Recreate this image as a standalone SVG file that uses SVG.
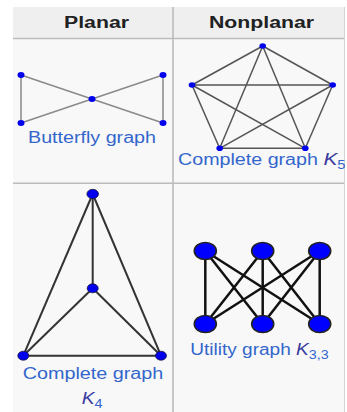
<svg xmlns="http://www.w3.org/2000/svg" width="347" height="412" viewBox="0 0 347 412">
  <defs>
    <style>
      .hdr { fill:#efefef; }
      .body { fill:#f8f8f8; }
      .grid { stroke:#bcbcbc; stroke-width:1.6; fill:none; }
      .th { font-family:"Liberation Sans", Arial, sans-serif; font-weight:bold; font-size:16px; fill:#202122; }
      .cap { font-family:"Liberation Sans", Arial, sans-serif; font-size:16px; fill:#3366cc; }
      .it { font-style:italic; fill:#3a3aa0; }
      .sub { font-size:12px; }
      .e-bf { stroke:#8a8a8a; stroke-width:1.5; }
      .e-k5 { stroke:#555; stroke-width:1.5; }
      .e-k4 { stroke:#333; stroke-width:2; }
      .e-k33 { stroke:#111; stroke-width:2.5; }
      .v-s { fill:#0000ee; }
      .v-m { fill:#0000ee; stroke:#1a1a40; stroke-width:0.8; }
      .v-l { fill:#0000ff; stroke:#222; stroke-width:1.6; }
    </style>
    <clipPath id="tbl"><rect x="13" y="7" width="332" height="405"/></clipPath>
  </defs>

  <!-- table -->
  <g id="table">
    <rect class="hdr" x="13" y="7" width="332" height="31.5"/>
    <rect class="body" x="13" y="38.5" width="332" height="373.5"/>
    <line class="grid" x1="13" y1="38.5" x2="345" y2="38.5"/>
    <line class="grid" x1="13" y1="183.3" x2="345" y2="183.3"/>
    <line class="grid" x1="173" y1="7" x2="173" y2="412"/>
    <line x1="344.5" y1="7" x2="344.5" y2="412" stroke="#d4d4d4" stroke-width="1"/>
    <text class="th" x="64" y="28.3" textLength="65" lengthAdjust="spacingAndGlyphs">Planar</text>
    <text class="th" x="209" y="28.3" textLength="105" lengthAdjust="spacingAndGlyphs">Nonplanar</text>
  </g>

  <!-- connectors -->
  <g id="connectors">
    <!-- butterfly -->
    <line class="e-bf" x1="21" y1="75" x2="21" y2="123"/>
    <line class="e-bf" x1="21" y1="75" x2="92" y2="99"/>
    <line class="e-bf" x1="21" y1="123" x2="92" y2="99"/>
    <line class="e-bf" x1="163" y1="75" x2="92" y2="99"/>
    <line class="e-bf" x1="163" y1="123" x2="92" y2="99"/>
    <line class="e-bf" x1="163" y1="75" x2="163" y2="123"/>
    <!-- K5 -->
    <line class="e-k5" x1="262.7" y1="46" x2="192" y2="85"/>
    <line class="e-k5" x1="262.7" y1="46" x2="332.7" y2="85"/>
    <line class="e-k5" x1="262.7" y1="46" x2="219.7" y2="148.3"/>
    <line class="e-k5" x1="262.7" y1="46" x2="305.3" y2="148.3"/>
    <line class="e-k5" x1="192" y1="85" x2="332.7" y2="85"/>
    <line class="e-k5" x1="192" y1="85" x2="219.7" y2="148.3"/>
    <line class="e-k5" x1="192" y1="85" x2="305.3" y2="148.3"/>
    <line class="e-k5" x1="332.7" y1="85" x2="219.7" y2="148.3"/>
    <line class="e-k5" x1="332.7" y1="85" x2="305.3" y2="148.3"/>
    <line class="e-k5" x1="219.7" y1="148.3" x2="305.3" y2="148.3"/>
    <!-- K4 -->
    <line class="e-k4" x1="92.7" y1="194" x2="92.7" y2="288.3"/>
    <line class="e-k4" x1="92.7" y1="194" x2="23.3" y2="355.7"/>
    <line class="e-k4" x1="92.7" y1="194" x2="161" y2="355.7"/>
    <line class="e-k4" x1="92.7" y1="288.3" x2="23.3" y2="355.7"/>
    <line class="e-k4" x1="92.7" y1="288.3" x2="161" y2="355.7"/>
    <line class="e-k4" x1="23.3" y1="355.7" x2="161" y2="355.7"/>
    <!-- K3,3 -->
    <line class="e-k33" x1="205.3" y1="251" x2="205.3" y2="324"/>
    <line class="e-k33" x1="205.3" y1="251" x2="262.7" y2="324"/>
    <line class="e-k33" x1="205.3" y1="251" x2="319.7" y2="324"/>
    <line class="e-k33" x1="262.7" y1="251" x2="205.3" y2="324"/>
    <line class="e-k33" x1="262.7" y1="251" x2="262.7" y2="324"/>
    <line class="e-k33" x1="262.7" y1="251" x2="319.7" y2="324"/>
    <line class="e-k33" x1="319.7" y1="251" x2="205.3" y2="324"/>
    <line class="e-k33" x1="319.7" y1="251" x2="262.7" y2="324"/>
    <line class="e-k33" x1="319.7" y1="251" x2="319.7" y2="324"/>
  </g>

  <!-- butterfly graph -->
  <g id="butterfly">
    <g id="bf-a"><ellipse class="v-s" cx="21" cy="75" rx="3.5" ry="3"/></g>
    <g id="bf-b"><ellipse class="v-s" cx="21" cy="123" rx="3.5" ry="3"/></g>
    <g id="bf-c"><ellipse class="v-s" cx="92" cy="99" rx="3.5" ry="3"/></g>
    <g id="bf-d"><ellipse class="v-s" cx="163" cy="75" rx="3.5" ry="3"/></g>
    <g id="bf-e"><ellipse class="v-s" cx="163" cy="123" rx="3.5" ry="3"/></g>
    <text class="cap" x="28" y="143" textLength="128" lengthAdjust="spacingAndGlyphs">Butterfly graph</text>
  </g>

  <!-- K5 -->
  <g id="k5">
    <g id="k5-a"><ellipse class="v-s" cx="262.7" cy="46" rx="3.3" ry="2.8"/></g>
    <g id="k5-b"><ellipse class="v-s" cx="192" cy="85" rx="3.3" ry="2.8"/></g>
    <g id="k5-c"><ellipse class="v-s" cx="332.7" cy="85" rx="3.3" ry="2.8"/></g>
    <g id="k5-d"><ellipse class="v-s" cx="219.7" cy="148.3" rx="3.3" ry="2.8"/></g>
    <g id="k5-e"><ellipse class="v-s" cx="305.3" cy="148.3" rx="3.3" ry="2.8"/></g>
    <g clip-path="url(#tbl)">
      <text class="cap" transform="translate(178,164.5) scale(1.23,1)">Complete graph <tspan class="it" font-size="17">K</tspan><tspan class="sub" dy="4">5</tspan></text>
    </g>
  </g>

  <!-- K4 -->
  <g id="k4">
    <g id="k4-a"><ellipse class="v-m" cx="92.7" cy="194" rx="5.8" ry="4.7"/></g>
    <g id="k4-b"><ellipse class="v-m" cx="92.7" cy="288.3" rx="5.5" ry="4.5"/></g>
    <g id="k4-c"><ellipse class="v-m" cx="23.3" cy="355.7" rx="5.5" ry="4.5"/></g>
    <g id="k4-d"><ellipse class="v-m" cx="161" cy="355.7" rx="5.5" ry="4.5"/></g>
    <text class="cap" x="22.7" y="379" textLength="140.6" lengthAdjust="spacingAndGlyphs">Complete graph</text>
    <text class="cap" transform="translate(81.7,404) scale(1.2,1)"><tspan class="it">K</tspan><tspan class="sub" dy="4">4</tspan></text>
  </g>

  <!-- K3,3 -->
  <g id="k33">
    <g id="k33-a"><ellipse class="v-l" cx="205.3" cy="251" rx="11" ry="8.5"/></g>
    <g id="k33-b"><ellipse class="v-l" cx="262.7" cy="251" rx="11" ry="8.5"/></g>
    <g id="k33-c"><ellipse class="v-l" cx="319.7" cy="251" rx="11" ry="8.5"/></g>
    <g id="k33-d"><ellipse class="v-l" cx="205.3" cy="324" rx="11" ry="8.5"/></g>
    <g id="k33-e"><ellipse class="v-l" cx="262.7" cy="324" rx="11" ry="8.5"/></g>
    <g id="k33-f"><ellipse class="v-l" cx="319.7" cy="324" rx="11" ry="8.5"/></g>
    <text class="cap" transform="translate(190.3,355) scale(1.19,1)">Utility graph <tspan class="it">K</tspan><tspan class="sub" dy="4">3,3</tspan></text>
  </g>
</svg>
